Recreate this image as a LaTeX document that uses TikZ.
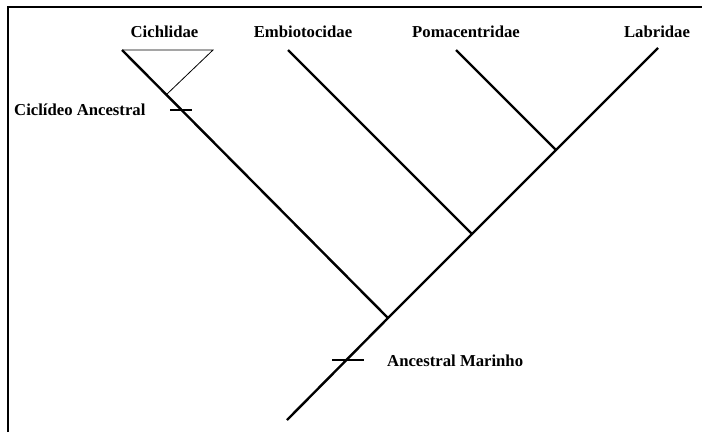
\documentclass[tikz,border=0pt]{standalone}
\usepackage{fontspec}
\setmainfont{Liberation Serif}
\tikzset{
  branch/.style={line width=2.4pt},
  tick/.style={line width=1.6pt},
  taxon/.style={font=\fontsize{16.7}{18}\selectfont\bfseries, inner sep=0pt}
}
\begin{document}
\begin{tikzpicture}[x=1pt,y=-1pt]
  \useasboundingbox (0,0) rectangle (702,432);
  \draw[line width=1.2pt](8,432)--(8,7)--(702,7);
  % branch points
  \coordinate (root) at (287,420);
  \coordinate (n1) at (388,318);
  \coordinate (n2) at (472,234);
  \coordinate (n3) at (556,150);
  \coordinate (cich) at (122,50);
  \coordinate (embi) at (288,50);
  \coordinate (poma) at (456,50);
  \coordinate (labr) at (658,48);
  \draw[branch](root)--(n1)--(n2)--(n3)--(labr);
  \draw[branch](n1)--(cich);
  \draw[branch](n2)--(embi);
  \draw[branch](n3)--(poma);
  % clado dos ciclideos
  \coordinate (tri1) at (213,50);
  \coordinate (tri2) at (166,95);
  \draw[line width=0.8pt](cich)--(tri1)--(tri2);
  % marcas
  \coordinate (m1) at (170,110);
  \coordinate (m2) at (192,110);
  \coordinate (m3) at (332,360);
  \coordinate (m4) at (364,360);
  \draw[tick](m1)--(m2);
  \draw[tick](m3)--(m4);
  \node[taxon] (lcich) at (164.5,32) {Cichlidae};
  \node[taxon] (lembi) at (303,32) {Embiotocidae};
  \node[taxon] (lpoma) at (466,32) {Pomacentridae};
  \node[taxon] (llabr) at (657,32) {Labridae};
  \node[taxon,anchor=west] (lcanc) at (14,110) {Ciclídeo Ancestral};
  \node[taxon,anchor=west] (lmari) at (387,361) {Ancestral Marinho};
\end{tikzpicture}
\end{document}
